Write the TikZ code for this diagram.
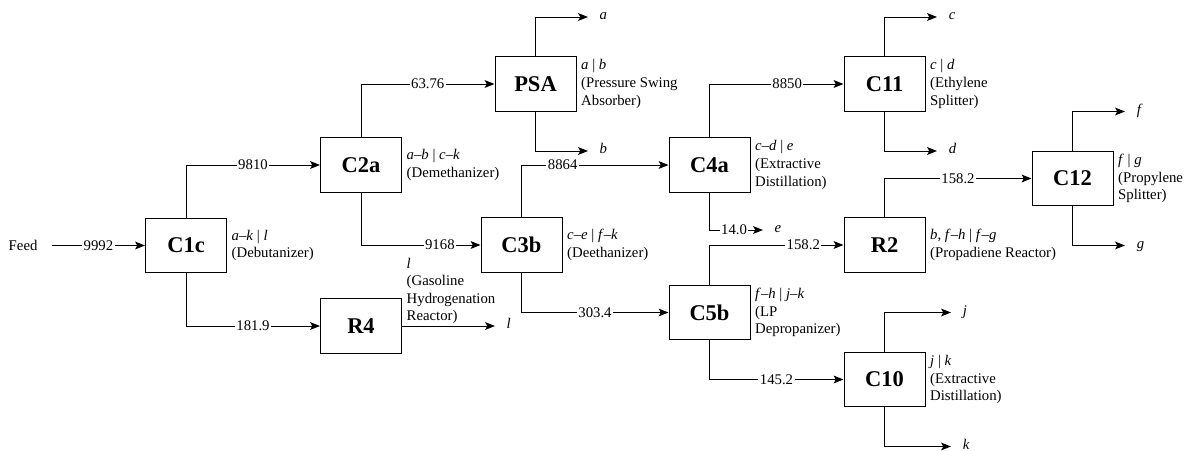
\documentclass[tikz,border=0pt]{standalone}
\usepackage{fontspec}
\setmainfont{Liberation Serif}
\usetikzlibrary{arrows.meta,positioning}

\begin{document}
\begin{tikzpicture}[x=0.025cm,y=-0.025cm,line width=0.7pt,
    >={Stealth[length=7pt,width=5.5pt,inset=1.5pt]},
    unit/.style={draw,minimum width=2.025cm,minimum height=1.35cm,
      font=\fontsize{16}{19}\selectfont\bfseries},
    note/.style={align=left,inner xsep=3pt,inner ysep=0pt,
      font=\fontsize{10.5}{12.5}\selectfont},
    flow/.style={fill=white,inner xsep=1pt,inner ysep=0.5pt,
      font=\fontsize{10.5}{12}\selectfont},
    prod/.style={anchor=west,inner xsep=8pt,inner ysep=0pt,
      text height=0.9ex,text depth=0pt,font=\fontsize{10.5}{12}\selectfont\itshape}]
  \useasboundingbox (0,0) rectangle (1192,451);

  % units
  \node[unit] (c1c) at (186,245.5) {C1c};
  \node[unit] (c2a) at (361,165)   {C2a};
  \node[unit] (psa) at (535.5,84)  {PSA};
  \node[unit] (c3b) at (521.5,245) {C3b};
  \node[unit] (r4)  at (361,326)   {R4};
  \node[unit] (c4a) at (709.5,165) {C4a};
  \node[unit] (c5b) at (709.5,312.5) {C5b};
  \node[unit] (c11) at (884.5,84)  {C11};
  \node[unit] (r2)  at (884.5,245) {R2};
  \node[unit] (c10) at (884.5,379.5) {C10};
  \node[unit] (c12) at (1072.5,178.5) {C12};

  % splits
  \node[note,right=0pt of c1c] {\textit{a}--\textit{k} | \textit{l}\\(Debutanizer)};
  \node[note,right=0pt of c2a] {\textit{a}--\textit{b} | \textit{c}--\textit{k}\\(Demethanizer)};
  \node[note,right=0pt of psa] {\textit{a} | \textit{b}\\(Pressure Swing\\Absorber)};
  \node[note,right=0pt of c3b] {\textit{c}--\textit{e} | \textit{f}--\textit{k}\\(Deethanizer)};
  \node[note,anchor=south west,inner ysep=1pt] at (r4.east) {\textit{l}\\(Gasoline\\Hydrogenation\\Reactor)};
  \node[note,right=0pt of c4a] {\textit{c}--\textit{d} | \textit{e}\\(Extractive\\Distillation)};
  \node[note,right=0pt of c5b] {\textit{f}--\textit{h} | \textit{j}--\textit{k}\\(LP\\Depropanizer)};
  \node[note,right=0pt of c11] {\textit{c} | \textit{d}\\(Ethylene\\Splitter)};
  \node[note,right=0pt of r2]  {\textit{b}, \textit{f}--\textit{h} | \textit{f}--\textit{g}\\(Propadiene Reactor)};
  \node[note,right=0pt of c10] {\textit{j} | \textit{k}\\(Extractive\\Distillation)};
  \node[note,right=0pt of c12] {\textit{f} | \textit{g}\\(Propylene\\Splitter)};

  % feed and products
  \node[anchor=east,inner xsep=10pt,font=\fontsize{10.5}{12}\selectfont] (feed) at (52,245.5) {Feed};
  \node[prod] (a) at (588,17)    {a};
  \node[prod] (b) at (588,151)   {b};
  \node[prod] (c) at (937,17)    {c};
  \node[prod] (d) at (937,151)   {d};
  \node[prod] (e) at (763,230)   {e};
  \node[prod] (f) at (1125,111.5) {f};
  \node[prod] (g) at (1125,245.5) {g};
  \node[prod] (j) at (951,312.5) {j};
  \node[prod] (k) at (951,446.5) {k};
  \node[prod] (l) at (495,326)   {l};

  % streams
  \draw[->] (feed) -- node[flow] {9992} (c1c);
  \draw[->] (c1c) |- node[flow,pos=0.75] {9810} (c2a);
  \draw[->] (c1c) |- node[flow,pos=0.75] {181.9} (r4);
  \draw[->] (c2a) |- node[flow,pos=0.75] {63.76} (psa);
  \draw[->] (c2a) |- node[flow,pos=0.83] {9168} (c3b);
  \draw[->] (psa) |- (a);
  \draw[->] (psa) |- (b);
  \draw[->] (c3b) |- node[flow,pos=0.64] {8864} (c4a);
  \draw[->] (c3b) |- node[flow,pos=0.75] {303.4} (c5b);
  \draw[->] (r4) -- (l);
  \draw[->] (c4a) |- node[flow,pos=0.73] {14.0} (e);
  \draw[->] (c4a) |- node[flow,pos=0.79] {8850} (c11);
  \draw[->] (c5b) |- node[flow,pos=0.85] {158.2} (r2);
  \draw[->] (c5b) |- node[flow,pos=0.75] {145.2} (c10);
  \draw[->] (c11) |- (c);
  \draw[->] (c11) |- (d);
  \draw[->] (r2) |- node[flow,pos=0.75] {158.2} (c12);
  \draw[->] (c12) |- (f);
  \draw[->] (c12) |- (g);
  \draw[->] (c10) |- (j);
  \draw[->] (c10) |- (k);
\end{tikzpicture}
\end{document}
